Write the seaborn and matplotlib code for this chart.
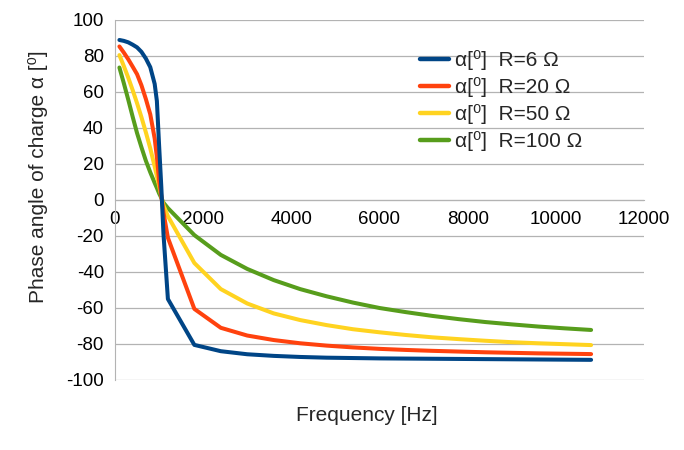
import matplotlib
matplotlib.use("Agg")
import matplotlib.pyplot as plt
import seaborn as sns
import pandas as pd

freq = [100, 200, 300, 400, 500, 600, 700, 800, 900, 950, 1000, 1050, 1100, 1200,
        1800, 2400, 3000, 3600, 4200, 4800, 5400, 6000, 6600, 7200, 7800,
        8400, 9000, 9600, 10200, 10800]

alpha_r6 = [88.9, 88.4, 87.6, 86.3, 84.8, 82.3, 78.6, 73.8, 64.5, 55.0, 30.5, 7.5, -19, -55,
            -80.5, -84, -85.7, -86.6, -87.2, -87.6, -87.8, -88.0, -88.1, -88.2,
            -88.3, -88.4, -88.5, -88.6, -88.7, -88.8]
alpha_r20 = [85.3, 81.9, 78.2, 74.1, 69.9, 63.7, 56.1, 47.6, 34.2, 23.9, 11, 2.5, -7, -21,
             -60.5, -71, -75.3, -77.8, -79.6, -80.9, -81.9, -82.7, -83.3, -83.8,
             -84.2, -84.6, -84.9, -85.2, -85.4, -85.6]
alpha_r50 = [80.5, 74.4, 68.0, 61.1, 53.8, 46.0, 37.6, 28.7, 18.6, 13.3, 8.0, 2.0, -3, -9,
             -35, -49.5, -57.5, -63, -66.7, -69.5, -71.8, -73.5, -75.0, -76.3,
             -77.3, -78.2, -79.0, -79.6, -80.1, -80.6]
alpha_r100 = [73.6, 64.9, 55.8, 46.3, 37.2, 29.3, 21.8, 15.4, 9.5, 6.7, 3.7, 1.2, -1.5, -4.5,
              -19.5, -30.5, -38.3, -44.5, -49.5, -53.5, -57.0, -60.0, -62.3, -64.4,
              -66.2, -67.8, -69.1, -70.3, -71.3, -72.2]

series_names = ["α[⁰]  R=6 Ω", "α[⁰]  R=20 Ω", "α[⁰]  R=50 Ω", "α[⁰]  R=100 Ω"]
series_values = [alpha_r6, alpha_r20, alpha_r50, alpha_r100]
colors = ["#004586", "#ff420e", "#ffd320", "#579d1c"]

y_ticks = [-100, -80, -60, -40, -20, 0, 20, 40, 60, 80, 100]
x_ticks = [0, 2000, 4000, 6000, 8000, 10000, 12000]

rows = []
for name, vals in zip(series_names, series_values):
    for f, v in zip(freq, vals):
        rows.append({"Frequency": f, "alpha": v, "series": name})
df = pd.DataFrame(rows)

sns.set_style("white")
plt.rcParams["font.family"] = ["Liberation Sans", "DejaVu Sans"]
plt.rcParams["axes.unicode_minus"] = False

fig = plt.figure(figsize=(6.84, 4.5), dpi=100)
ax = fig.add_axes([115 / 684, 1 - 380 / 450, 529 / 684, 360 / 450])

sns.lineplot(data=df, x="Frequency", y="alpha", hue="series",
             hue_order=series_names, palette=colors, linewidth=2.9,
             ax=ax, sort=False, estimator=None)

# blue on top
for i, ln in enumerate(ax.lines[:4]):
    ln.set_zorder(10 - i)
    ln.set_solid_joinstyle("round")

ax.set_xlim(0, 12000)
ax.set_ylim(-100, 100)
ax.set_yticks(y_ticks)
ax.set_xticks(x_ticks)
ax.tick_params(axis="both", labelsize=13.5, colors="black", length=5,
               width=0.8, direction="out", pad=3)
ax.tick_params(axis="both", color="#b3b3b3")
ax.yaxis.grid(True, color="#b3b3b3", linewidth=0.9)
ax.xaxis.grid(False)
ax.set_axisbelow(True)

for s in ["top", "right"]:
    ax.spines[s].set_visible(False)
ax.spines["left"].set_color("#b3b3b3")
ax.spines["bottom"].set_color("#b3b3b3")
ax.spines["bottom"].set_position(("data", 0))
ax.spines["bottom"].set_zorder(1)

ax.set_xlabel("Frequency [Hz]", fontsize=15)
ax.xaxis.set_label_coords(0.476, -0.072)
ax.set_ylabel("Phase angle of charge α [⁰]", fontsize=15)
ax.yaxis.set_label_coords(-0.126, 0.564)

leg = ax.legend(loc="upper left", bbox_to_anchor=(420 / 684, 1 - 50 / 450),
                bbox_transform=fig.transFigure, frameon=False, fontsize=15,
                handlelength=1.4, handletextpad=0.29, labelspacing=0.34,
                borderaxespad=0, borderpad=0)
for h in leg.get_lines():
    h.set_linewidth(3.2)

fig.savefig("out.png", dpi=100)
